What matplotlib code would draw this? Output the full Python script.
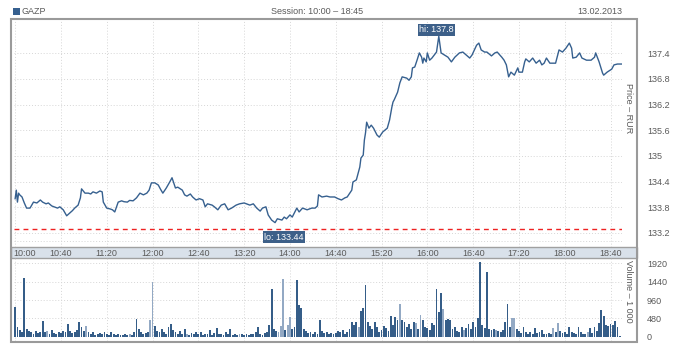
import matplotlib.pyplot as plt
from matplotlib.patches import Rectangle
from matplotlib.transforms import blended_transform_factory

plt.rcParams['font.family'] = ['Liberation Sans', 'DejaVu Sans']

ticker = 'GAZP'
session = 'Session: 10:00 \u2013 18:45'
date_label = '13.02.2013'

# price, minutes after 10:00
price_t = [0, 1, 2, 3, 4, 6, 8, 10, 13, 16, 19, 22, 24, 27, 29, 32, 34, 37, 39, 42,
           45, 48, 50, 52, 55, 57, 58, 61, 64, 66, 68, 71, 74, 76, 77, 80, 83, 85, 87, 90,
           93, 95, 98, 100, 103, 106, 109, 112, 115, 117, 119, 122, 125, 127, 129, 132, 135, 137, 140, 142,
           146, 148, 150, 153, 155, 158, 161, 164, 166, 168, 172, 174, 177, 180, 183, 186, 189, 193, 196, 200,
           205, 208, 211, 214, 216, 219, 221, 224, 227, 229, 233, 235, 237, 240, 242, 246, 248, 251, 255, 259,
           262, 264, 265, 268, 272, 275, 279, 282, 285, 288, 290, 294, 295, 298, 301, 302, 304, 305, 306, 307,
           309, 311, 313, 316, 318, 321, 325, 327, 329, 330, 331, 334, 336, 338, 342, 344, 346, 347, 349, 351,
           353, 355, 356, 357, 359, 360, 362, 364, 368, 370, 372, 375, 378, 381, 384, 388, 391, 394, 397, 399,
           403, 405, 407, 410, 412, 416, 419, 421, 425, 427, 429, 431, 433, 436, 439, 440, 443, 445, 446, 449,
           452, 455, 458, 460, 462, 464, 467, 469, 472, 473, 475, 478, 481, 484, 486, 487, 490, 493, 495, 499,
           503, 506, 507, 510, 513, 514, 517, 521, 523, 526, 530]
price_v = [134.00, 134.20, 133.92, 134.13, 134.09, 134.04, 133.90, 133.78, 133.78, 133.92,
           133.90, 133.97, 133.92, 133.88, 133.90, 133.83, 133.81, 133.78, 133.81, 133.74,
           133.60, 133.67, 133.72, 133.78, 133.85, 134.02, 134.23, 134.13, 134.13, 134.11,
           134.16, 134.13, 134.18, 134.16, 133.92, 133.78, 133.76, 133.74, 133.69, 133.92,
           133.95, 133.93, 133.92, 133.96, 133.95, 134.02, 134.13, 134.09, 134.13, 134.20,
           134.37, 134.37, 134.32, 134.22, 134.13, 134.25, 134.39, 134.49, 134.25, 134.27,
           134.20, 134.09, 134.06, 134.11, 134.04, 133.97, 134.00, 133.97, 133.81, 133.88,
           133.85, 133.81, 133.74, 133.85, 133.88, 133.74, 133.78, 133.85, 133.88, 133.90,
           133.85, 133.88, 133.78, 133.71, 133.78, 133.81, 133.62, 133.50, 133.44, 133.53,
           133.50, 133.57, 133.53, 133.62, 133.57, 133.78, 133.69, 133.78, 133.74, 133.78,
           133.78, 133.83, 134.09, 134.04, 134.06, 134.04, 134.04, 134.00, 133.97, 134.02,
           134.04, 134.20, 134.39, 134.44, 134.74, 134.95, 135.02, 135.37, 135.54, 135.79,
           135.65, 135.72, 135.65, 135.49, 135.44, 135.56, 135.65, 135.84, 136.14, 136.26,
           136.31, 136.49, 136.71, 136.85, 136.82, 136.77, 136.85, 137.06, 137.08, 137.24,
           137.41, 137.31, 137.17, 137.29, 137.20, 137.41, 137.24, 137.29, 137.43, 137.80,
           137.41, 137.36, 137.31, 137.20, 137.31, 137.41, 137.43, 137.36, 137.29, 137.36,
           137.59, 137.64, 137.48, 137.43, 137.43, 137.34, 137.41, 137.43, 137.31, 137.24,
           137.13, 136.85, 136.96, 136.89, 137.06, 136.96, 136.96, 137.20, 137.27, 137.20,
           137.29, 137.17, 137.24, 137.13, 137.17, 137.29, 137.17, 137.17, 137.17, 137.27,
           137.48, 137.43, 137.52, 137.64, 137.52, 137.29, 137.31, 137.41, 137.29, 137.24,
           137.24, 137.31, 137.41, 137.20, 136.94, 136.89, 136.96, 137.03, 137.13, 137.15,
           137.15]
prev_close = 133.29
hi_t, hi_val = 370, 137.8
lo_t, lo_val = 227, 133.44

# volume (thousands), one bar every 2 minutes from 10:00
vol_t = list(range(0, 530, 2))
vol_v = [780, 250, 180, 120, 1535, 200, 150, 120, 90, 160, 110, 140, 420, 130, 150, 90, 170, 110, 80, 130,
         100, 160, 120, 336, 150, 100, 140, 180, 400, 260, 150, 280, 120, 90, 140, 60, 80, 110, 70, 140,
         90, 60, 120, 70, 50, 90, 60, 40, 80, 50, 90, 60, 120, 466, 200, 130, 80, 110, 140, 440,
         1417, 280, 160, 120, 200, 140, 90, 260, 336, 180, 120, 90, 150, 70, 200, 90, 60, 100, 80, 120,
         80, 140, 60, 90, 70, 180, 60, 100, 240, 70, 90, 60, 130, 70, 200, 50, 90, 60, 70, 90,
         60, 80, 50, 90, 70, 120, 254, 80, 60, 100, 140, 300, 1235, 200, 150, 120, 280, 1502, 180, 320,
         510, 200, 250, 1476, 829, 750, 200, 150, 100, 130, 80, 120, 90, 440, 150, 100, 130, 80, 110, 90,
         100, 150, 120, 180, 90, 130, 200, 396, 300, 390, 250, 673, 743, 1347, 396, 280, 200, 388, 250, 120,
         180, 290, 230, 160, 544, 300, 530, 440, 847, 440, 400, 250, 330, 200, 390, 370, 220, 570, 440, 260,
         230, 180, 370, 300, 1235, 656, 1148, 725, 440, 458, 440, 200, 270, 150, 120, 270, 180, 230, 350, 200,
         390, 250, 500, 1950, 300, 240, 1675, 200, 170, 220, 180, 150, 130, 170, 388, 855, 260, 500, 480, 200,
         150, 110, 250, 120, 90, 130, 80, 230, 100, 140, 180, 90, 70, 110, 80, 230, 120, 370, 150, 100,
         120, 90, 250, 140, 100, 80, 250, 120, 90, 70, 130, 230, 100, 250, 160, 360, 700, 544, 300, 280,
         330, 300, 420, 260, 20]
light_t = [28, 62, 100, 118, 120, 150, 196, 230, 232, 234, 238, 240, 300, 336, 350,
           354, 374, 392, 420, 434, 436, 470, 474, 500]

time_ticks = [0, 40, 80, 120, 160, 200, 240, 280, 320, 360, 400, 440, 480, 520]
time_labels = ['10:00', '10:40', '11:20', '12:00', '12:40', '13:20', '14:00',
               '14:40', '15:20', '16:00', '16:40', '17:20', '18:00', '18:40']
price_ticks = [133.2, 133.8, 134.4, 135.0, 135.6, 136.2, 136.8, 137.4]
price_labels = ['133.2', '133.8', '134.4', '135', '135.6', '136.2', '136.8', '137.4']
vol_ticks = [0, 480, 960, 1440, 1920]

W, H = 688, 345
def fx(px):
    return px / W
def fy(py):
    return 1 - py / H

line_blue = '#36608f'
dark_bar = '#355d88'
light_bar = '#93a9c4'
grid_c = '#d6d6d6'
grid_ls = (0, (1, 2))
txt_c = '#5a5a5a'
fs = 6.5

fig = plt.figure(figsize=(6.88, 3.45), dpi=100)
ax_p = fig.add_axes([fx(14), fy(247), fx(622) - fx(14), fy(20) - fy(247)])
ax_v = fig.add_axes([fx(14), fy(341), fx(622) - fx(14), fy(258) - fy(341)])

# time strip between the panels
fig.patches.append(Rectangle((fx(11), fy(258)), fx(637) - fx(11), fy(247) - fy(258),
                             transform=fig.transFigure, facecolor='#d9e1ea',
                             edgecolor='#a0a0a0', linewidth=1.0, zorder=-1))
# outer frame
fig.patches.append(Rectangle((fx(11), fy(342)), fx(637) - fx(11), fy(19) - fy(342),
                             transform=fig.transFigure, fill=False,
                             edgecolor='#9a9a9a', linewidth=1.5, zorder=5))

for ax in (ax_p, ax_v):
    ax.set_xlim(-1, 530)
    for s in ax.spines.values():
        s.set_visible(False)
    ax.set_xticks([])
    ax.yaxis.tick_right()
    ax.tick_params(axis='y', length=0, pad=18, labelsize=fs, labelcolor=txt_c)
    ax.patch.set_alpha(0)
    for t in time_ticks:
        ax.axvline(t, color=grid_c, lw=0.7, ls=grid_ls, zorder=1)

# price panel
ax_p.set_ylim(132.87, 138.18)
ax_p.set_yticks(price_ticks)
ax_p.set_yticklabels(price_labels)
for p in price_ticks:
    ax_p.axhline(p, color=grid_c, lw=0.7, ls=grid_ls, zorder=1)
ax_p.axhline(133.0, color=grid_c, lw=0.7, ls=grid_ls, zorder=1)
ax_p.axhline(prev_close, color='#ee2222', lw=1.0, dashes=(3.5, 3), zorder=2)
ax_p.plot(price_t, price_v, color=line_blue, lw=1.0, zorder=3)

box = dict(boxstyle='square,pad=0.15', fc='#3d6089', ec='none')
ax_p.annotate(f'hi: {hi_val}', xy=(hi_t, hi_val), xytext=(-1.5, 4.5),
              textcoords='offset points', ha='center', va='center',
              color='white', fontsize=fs, bbox=box, zorder=4)
ax_p.annotate(f'lo: {lo_val}', xy=(lo_t, lo_val), xytext=(6.5, -10.5),
              textcoords='offset points', ha='center', va='center',
              color='white', fontsize=fs, bbox=box, zorder=4)

# time labels in the strip
tr = blended_transform_factory(ax_p.transData, fig.transFigure)
for t, lab in zip(time_ticks, time_labels):
    if t == 0:
        ax_p.text(-1.7, fy(253), lab, transform=tr, ha='left', va='center',
                  fontsize=fs, color=txt_c, clip_on=False)
    else:
        ax_p.text(t, fy(253), lab, transform=tr, ha='center', va='center',
                  fontsize=fs, color=txt_c, clip_on=False)

# volume panel
ax_v.set_ylim(-104, 2050)
ax_v.set_yticks(vol_ticks)
ax_v.set_yticklabels([str(v) for v in vol_ticks])
for v in vol_ticks[1:]:
    ax_v.axhline(v, color=grid_c, lw=0.7, ls=grid_ls, zorder=1)
colors = [light_bar if t in light_t else dark_bar for t in vol_t]
ax_v.bar(vol_t, vol_v, width=1.6, color=colors, linewidth=0, zorder=3)

# axis titles inside the frame
fig.text(fx(629), fy(108), 'Price \u2013 RUR', rotation=270, ha='center', va='center',
         fontsize=fs, color=txt_c)
fig.text(fx(629), fy(291), 'Volume \u2013 1 000', rotation=270, ha='center', va='center',
         fontsize=fs, color=txt_c)

# header
fig.patches.append(Rectangle((fx(13), fy(15)), fx(20) - fx(13), fy(8) - fy(15),
                             transform=fig.transFigure, facecolor=line_blue,
                             edgecolor='none'))
fig.text(fx(22), fy(11.5), ticker, ha='left', va='center', fontsize=fs, color=txt_c)
fig.text(fx(317), fy(11.5), session, ha='center', va='center', fontsize=fs, color=txt_c)
fig.text(fx(622), fy(11.5), date_label, ha='right', va='center', fontsize=fs, color=txt_c)

fig.savefig('out.png', dpi=100, facecolor='white')
